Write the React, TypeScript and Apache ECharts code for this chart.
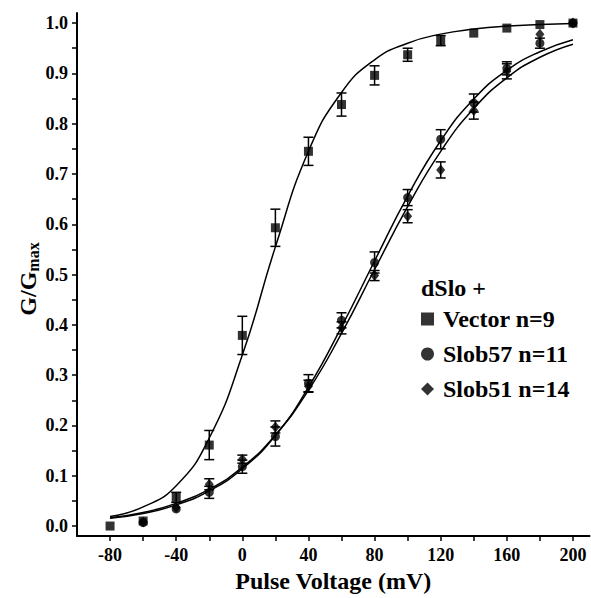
import React, { useEffect, useRef } from "react";
import * as echarts from "echarts";

// Pulse voltages (mV)
const voltages = [-80, -60, -40, -20, 0, 20, 40, 60, 80, 100, 120, 140, 160, 180, 200];

const vectorMean = [0.0, 0.01, 0.057, 0.161, 0.379, 0.593, 0.745, 0.838, 0.896, 0.937, 0.965, 0.98, 0.99, 0.997, 1.0];
const vectorErr = [0, 0, 0.01, 0.029, 0.038, 0.037, 0.028, 0.023, 0.019, 0.013, 0.01, 0, 0, 0, 0];

const slob57Mean = [null, 0.007, 0.034, 0.067, 0.118, 0.178, 0.284, 0.409, 0.524, 0.653, 0.769, 0.841, 0.91, 0.96, 1.0];
const slob57Err = [0, 0, 0, 0.012, 0.013, 0.019, 0.017, 0.015, 0.021, 0.016, 0.019, 0.018, 0.013, 0.01, 0];

const slob51Mean = [null, 0.008, 0.037, 0.083, 0.133, 0.197, 0.278, 0.394, 0.498, 0.616, 0.708, 0.826, 0.904, 0.978, 1.0];
const slob51Err = [0, 0, 0, 0.011, 0.008, 0.012, 0.012, 0.012, 0.01, 0.013, 0.016, 0.017, 0.015, 0, 0];

// Fitted curves at the same voltages
const vectorFit = [0.019, 0.038, 0.08, 0.175, 0.34, 0.555, 0.745, 0.862, 0.927, 0.96, 0.978, 0.988, 0.994, 0.997, 0.999];
const slob57Fit = [0.0155, 0.025, 0.042, 0.07, 0.114, 0.18, 0.276, 0.396, 0.527, 0.656, 0.766, 0.849, 0.906, 0.943, 0.967];
const slob51Fit = [0.0165, 0.027, 0.045, 0.073, 0.117, 0.181, 0.27, 0.383, 0.51, 0.635, 0.745, 0.83, 0.891, 0.932, 0.958];

const seriesNames = ["Vector n=9", "Slob57 n=11", "Slob51 n=14"];
const legendTitle = "dSlo +";
const xTitle = "Pulse Voltage (mV)";

const xMin = -100;
const xMax = 210;
const yMin = -0.02;
const yMax = 1.02;
const xMajor = [-80, -40, 0, 40, 80, 120, 160, 200];
const xMinor = [-60, -20, 20, 60, 100, 140, 180];
const yMajor = [0, 0.1, 0.2, 0.3, 0.4, 0.5, 0.6, 0.7, 0.8, 0.9, 1.0];
const yMinor = [0.05, 0.15, 0.25, 0.35, 0.45, 0.55, 0.65, 0.75, 0.85, 0.95];

const FONT = "Liberation Serif";

export default function App() {
  const ref = useRef<HTMLDivElement>(null);

  useEffect(() => {
    document.body.style.margin = "0";
    if (!ref.current) return;
    const chart = echarts.init(ref.current, undefined, { renderer: "svg" });

    const pts = (ys: (number | null)[]) =>
      voltages.map((v, i) => (ys[i] == null ? [v, "-"] : [v, ys[i]]));
    const errData = (ys: (number | null)[], es: number[]) =>
      voltages
        .map((v, i) => [v, ys[i], es[i]])
        .filter((d) => d[1] != null && (d[2] as number) > 0);

    const errSeries = (name: string, ys: (number | null)[], es: number[], z: number) => ({
      type: "custom",
      name: name + " err",
      z,
      clip: false,
      data: errData(ys, es),
      renderItem: (_p: any, api: any) => {
        const x = api.value(0);
        const y = api.value(1);
        const e = api.value(2);
        const t = api.coord([x, y + e]);
        const b = api.coord([x, y - e]);
        const hw = 5;
        const st = { stroke: "#000", lineWidth: 1.5 };
        return {
          type: "group",
          children: [
            { type: "line", shape: { x1: t[0], y1: t[1], x2: b[0], y2: b[1] }, style: st },
            { type: "line", shape: { x1: t[0] - hw, y1: t[1], x2: t[0] + hw, y2: t[1] }, style: st },
            { type: "line", shape: { x1: b[0] - hw, y1: b[1], x2: b[0] + hw, y2: b[1] }, style: st },
          ],
        };
      },
    });

    const fitSeries = (ys: number[]) => ({
      type: "line",
      data: voltages.map((v, i) => [v, ys[i]]),
      showSymbol: false,
      symbol: "none",
      smooth: 0.5,
      lineStyle: { color: "#000", width: 1.5 },
      z: 2,
      silent: true,
    });

    const axisFont = { fontFamily: FONT, fontWeight: "bold", color: "#000" };

    chart.setOption({
      animation: false,
      backgroundColor: "#fff",
      grid: { left: 77, right: 1.5, top: 13, bottom: 59 },
      xAxis: {
        type: "value",
        min: xMin,
        max: xMax,
        axisLine: { show: true, onZero: false, lineStyle: { color: "#000", width: 2 } },
        axisTick: {
          show: true,
          customValues: [...xMajor, ...xMinor].sort((a, b) => a - b),
          length: 5,
          lineStyle: { color: "#000", width: 1.5 },
        },
        axisLabel: { customValues: xMajor, fontSize: 18, margin: 10, ...axisFont },
        splitLine: { show: false },
        name: xTitle,
        nameLocation: "middle",
        nameGap: 32,
        nameTextStyle: { fontSize: 24, ...axisFont },
      },
      yAxis: {
        type: "value",
        min: yMin,
        max: yMax,
        axisLine: { show: true, onZero: false, lineStyle: { color: "#000", width: 2 } },
        axisTick: {
          show: true,
          customValues: [...yMajor, ...yMinor].sort((a, b) => a - b),
          length: 5,
          lineStyle: { color: "#000", width: 1.5 },
        },
        axisLabel: {
          customValues: yMajor,
          fontSize: 18,
          margin: 9,
          formatter: (v: number) => v.toFixed(1),
          ...axisFont,
        },
        splitLine: { show: false },
      },
      title: {
        text: legendTitle,
        left: 416,
        top: 271,
        textStyle: { fontSize: 24, lineHeight: 24, ...axisFont },
      },
      legend: {
        data: seriesNames,
        orient: "vertical",
        left: 416,
        top: 302,
        itemWidth: 13,
        itemHeight: 13,
        itemGap: 11,
        textStyle: { fontSize: 24, lineHeight: 24, padding: [0, 0, 0, 4], ...axisFont },
        selectedMode: false,
      },
      graphic: [
        {
          type: "text",
          x: 28,
          y: 279,
          rotation: Math.PI / 2,
          style: {
            text: "{a|G/G}{b|max}",
            align: "center",
            verticalAlign: "middle",
            rich: {
              a: { fontSize: 24, lineHeight: 26, fontFamily: FONT, fontWeight: "bold", fill: "#000" },
              b: { fontSize: 16, lineHeight: 16, verticalAlign: "bottom", fontFamily: FONT, fontWeight: "bold", fill: "#000" },
            },
          },
        },
      ],
      series: [
        fitSeries(vectorFit),
        fitSeries(slob57Fit),
        fitSeries(slob51Fit),
        errSeries(seriesNames[2], slob51Mean, slob51Err, 3),
        errSeries(seriesNames[1], slob57Mean, slob57Err, 3),
        errSeries(seriesNames[0], vectorMean, vectorErr, 3),
        {
          type: "scatter",
          name: seriesNames[2],
          data: pts(slob51Mean),
          symbol: "diamond",
          symbolSize: [9, 11],
          itemStyle: { color: "#000" },
          z: 4,
        },
        {
          type: "scatter",
          name: seriesNames[1],
          data: pts(slob57Mean),
          symbol: "circle",
          symbolSize: 9,
          itemStyle: { color: "#000" },
          z: 5,
        },
        {
          type: "scatter",
          name: seriesNames[0],
          data: pts(vectorMean),
          symbol: "rect",
          symbolSize: 9,
          itemStyle: { color: "#000" },
          z: 6,
        },
      ],
    });

    return () => chart.dispose();
  }, []);

  return <div ref={ref} style={{ width: 591, height: 598 }} />;
}
